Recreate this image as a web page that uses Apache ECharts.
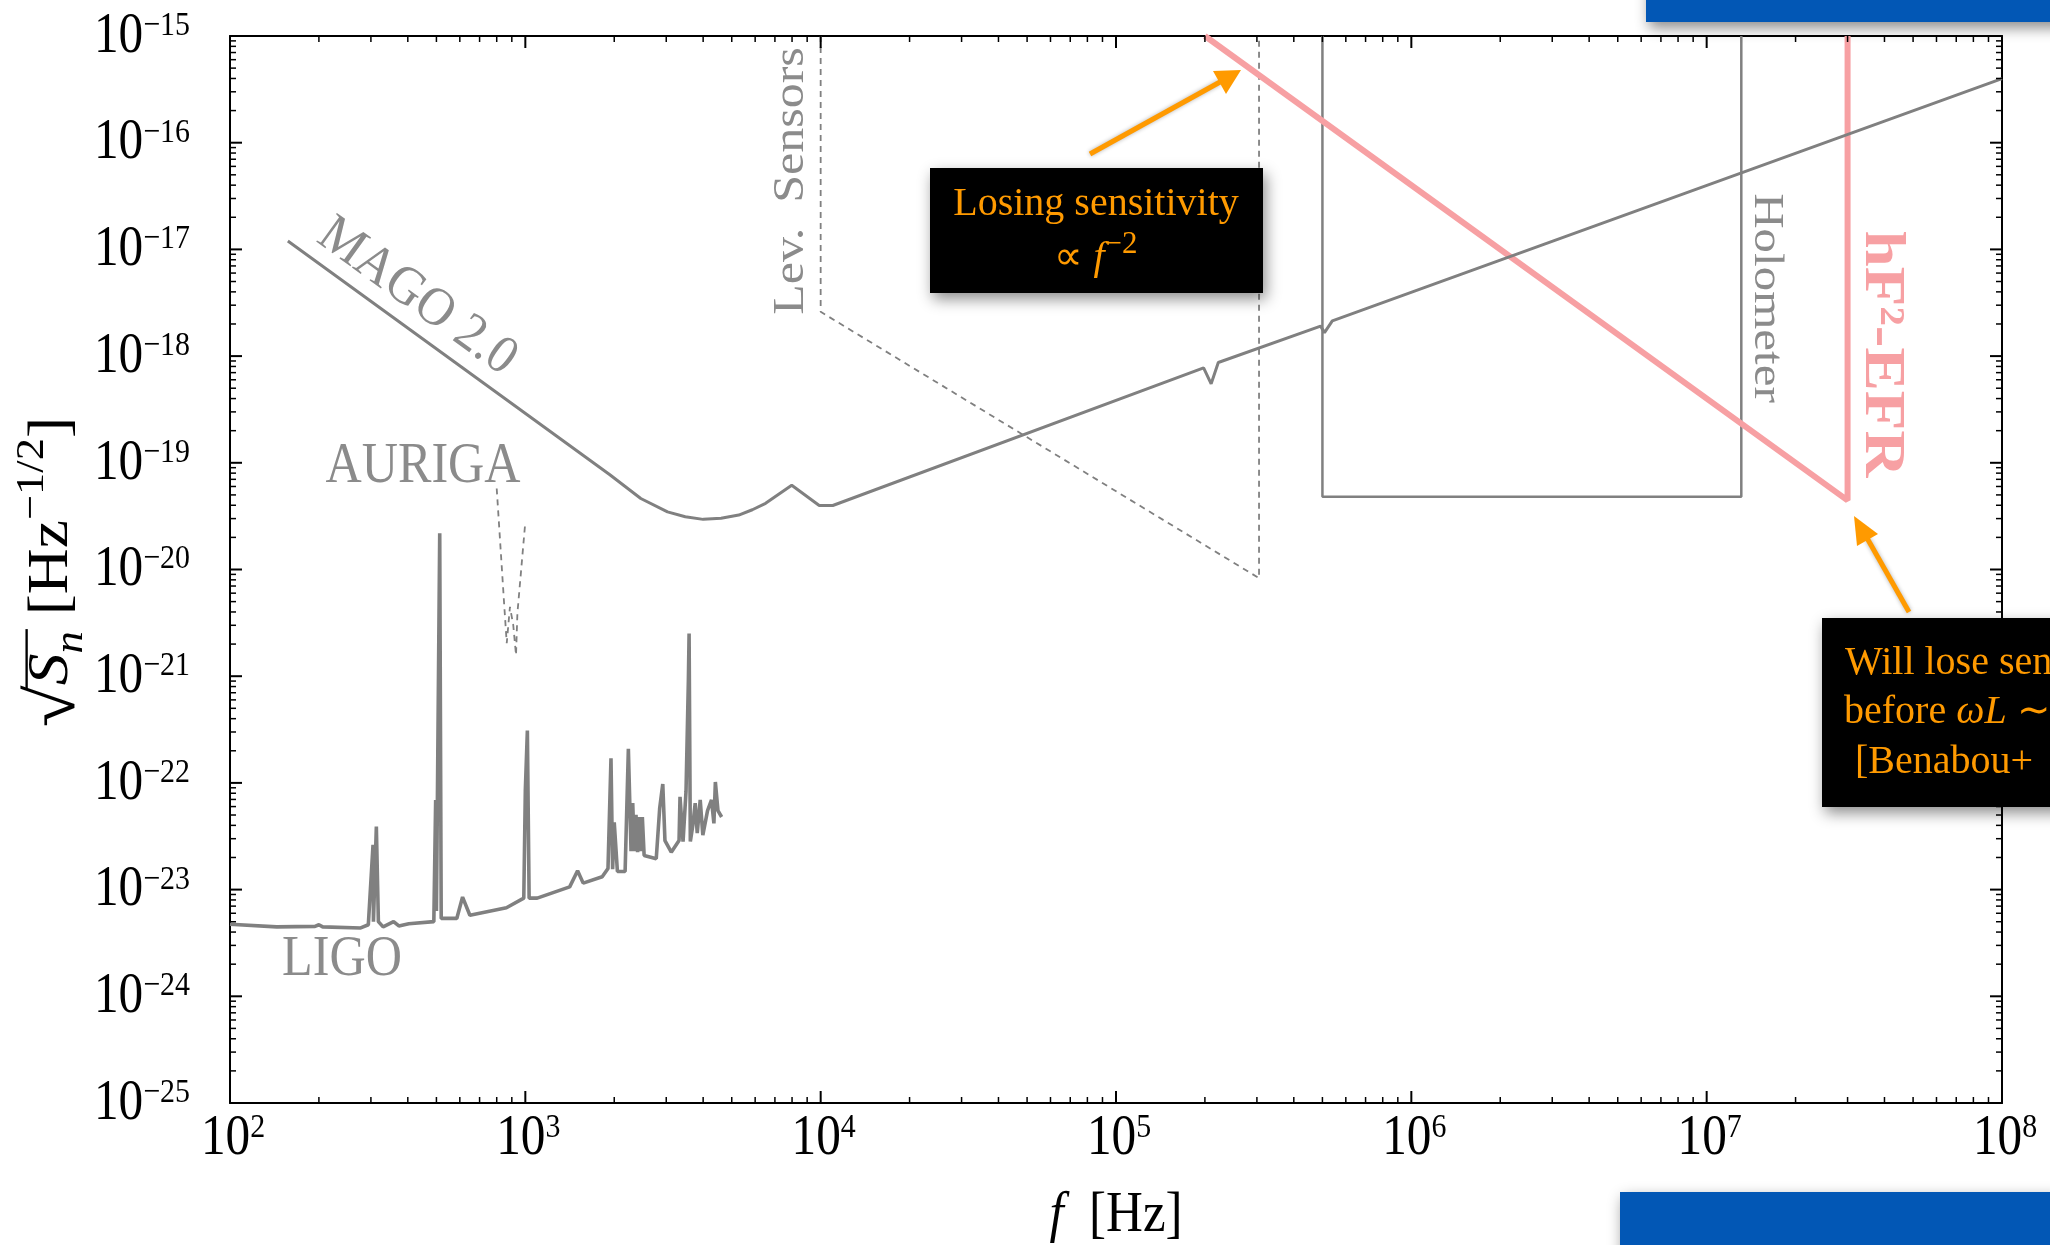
<!DOCTYPE html>
<html><head><meta charset="utf-8">
<script src="https://cdn.jsdelivr.net/npm/echarts@6/dist/echarts.min.js"></script>
<style>html,body{margin:0;padding:0;background:#fff}#c{width:2050px;height:1245px}</style>
</head><body><div id="c"></div>
<script>
// ---------------- data (frequency in Hz, sqrt(S_n) in Hz^-1/2) ----------------
const ligoF = [100,144,194,200,206,277,294,305,306,313,318,330,358,373,403,490,497,500,513,519,586,613,649,863,988,1000,1016,1030,1097,1413,1503,1570,1821,1905,1950,1975,2000,2050,2177,2233,2280,2310,2340,2370,2400,2430,2460,2490,2525,2775,2850,2920,2970,3120,3315,3340,3420,3500,3565,3585,3620,3690,3760,3820,3910,3990,4140,4270,4350,4400,4490,4620];
const ligoS = [4.73e-24,4.47e-24,4.52e-24,4.68e-24,4.47e-24,4.37e-24,4.68e-24,2.63e-23,5.01e-24,3.89e-23,5.01e-24,4.47e-24,5.01e-24,4.57e-24,4.79e-24,5.01e-24,6.92e-23,6.31e-24,2.19e-20,5.37e-24,5.37e-24,8.51e-24,5.75e-24,6.76e-24,8.32e-24,8.51e-23,3.09e-22,8.32e-24,8.32e-24,1.06e-23,1.50e-23,1.15e-23,1.32e-23,1.58e-23,1.70e-22,1.55e-23,4.27e-23,1.48e-23,1.48e-23,2.09e-22,2.29e-23,6.46e-23,2.29e-23,5.01e-23,2.24e-23,4.79e-23,2.29e-23,4.79e-23,2.09e-23,1.95e-23,5.75e-23,9.77e-23,2.88e-23,2.24e-23,2.88e-23,7.41e-23,2.82e-23,8.32e-23,9.12e-22,2.51e-21,2.82e-23,3.98e-23,6.46e-23,3.39e-23,6.92e-23,3.24e-23,5.50e-23,6.92e-23,4.17e-23,1.02e-22,5.50e-23,4.79e-23];

const magoF = [157,1928,2460,3030,3480,4000,4600,5280,5870,6510,7980,9890,10990,198000,210000,222000,493000,508000,540000,1e8];
const magoS = [1.20e-17,7.76e-20,4.63e-20,3.47e-20,3.12e-20,2.95e-20,3.02e-20,3.24e-20,3.63e-20,4.17e-20,6.17e-20,3.98e-20,3.98e-20,7.76e-19,5.50e-19,8.71e-19,1.91e-18,1.66e-18,2.14e-18,3.98e-16];

const aurigaF = [800,849,865,887,910,930,940,998];
const aurigaS = [5.75e-20,4.47e-21,2.04e-21,4.47e-21,3.02e-21,1.58e-21,3.89e-21,2.63e-20];

const levF = [1e4,1e4,3.05e5,3.05e5];
const levS = [1e-15,2.6e-18,8.3e-21,1e-15];

const holoF = [5e5,5e5,1.31e7,1.31e7];
const holoS = [1e-15,4.8e-20,4.8e-20,1e-15];

const efrF = [2.0e5,3.0e7,3.0e7];
const efrS = [1e-15,4.45e-20,1e-15];

// axis ranges and tick positions
const xMin = 1e2, xMax = 1e8, yMin = 1e-25, yMax = 1e-15;
const xMajorTicks = [1e2,1e3,1e4,1e5,1e6,1e7,1e8];
const yMajorTicks = [1e-25,1e-24,1e-23,1e-22,1e-21,1e-20,1e-19,1e-18,1e-17,1e-16,1e-15];
const xMinorTicks = [2e2,3e2,4e2,5e2,6e2,7e2,8e2,9e2,2e3,3e3,4e3,5e3,6e3,7e3,8e3,9e3,2e4,3e4,4e4,5e4,6e4,7e4,8e4,9e4,2e5,3e5,4e5,5e5,6e5,7e5,8e5,9e5,2e6,3e6,4e6,5e6,6e6,7e6,8e6,9e6,2e7,3e7,4e7,5e7,6e7,7e7,8e7,9e7];
const yMinorMant = [2,3,4,5,6,7,8,9];
const yDecades = [-25,-24,-23,-22,-21,-20,-19,-18,-17,-16];

// ---------------- styling ----------------
const FONT = '"Liberation Serif","Times New Roman",serif';
const GRAY = '#808080';
const TXT = '#8b8b8b';
const PINK = '#F7A0A3';
const ORANGE = '#FF9A00';
const BLUE = '#0257B5';
const SX = 0.88; // horizontal condensation of the reference's lettering

const pair = (xs, ys) => xs.map((x, i) => [x, ys[i]]);
const yMinorTicks = [];
yDecades.forEach(d => yMinorMant.forEach(m => yMinorTicks.push(m * Math.pow(10, d))));

function axis(pos, isX) {
  return {
    type: 'log', logBase: 10, position: pos,
    min: isX ? xMin : yMin, max: isX ? xMax : yMax, splitNumber: isX ? 6 : 10,
    axisLine: {show: true, onZero: false, lineStyle: {color: '#000', width: 2}},
    axisTick: {show: false}, minorTick: {show: false},
    splitLine: {show: false}, minorSplitLine: {show: false},
    axisLabel: {show: false}
  };
}

const tickLine = (x1, y1, x2, y2, w) => ({type: 'line', shape: {x1, y1, x2, y2}, style: {stroke: '#000', lineWidth: w}});
const tickRich = {
  b: {fontFamily: FONT, fontSize: 56, fill: '#000', verticalAlign: 'bottom', lineHeight: 56},
  s: {fontFamily: FONT, fontSize: 34, fill: '#000', verticalAlign: 'bottom', lineHeight: 34, padding: [0, 0, 22, 0]}
};
const labelEl = (text, x, y, align, vAlign) => ({type: 'text', x, y, scaleX: SX, style: {text, rich: tickRich,
  align, verticalAlign: vAlign, textAlign: align, textVerticalAlign: vAlign}});
const expText = v => { const e = Math.round(Math.log10(v)); return '{b|10}{s|' + (e < 0 ? '\u2212' + (-e) : String(e)) + '}'; };

const chart = echarts.init(document.getElementById('c'), null, {renderer: 'canvas'});

// measure y-label pieces for vinculum placement
const mctx = document.createElement('canvas').getContext('2d');
function tw(t, size, st) { mctx.font = (st || '') + ' ' + size + 'px ' + FONT; return mctx.measureText(t).width; }
const YF = 60, YS = 42, YQ = 72;
const wSq = tw('\u221A', YQ), wS = tw('S', YF, 'italic'), wn = tw('n', YS, 'italic');
const wRest = tw(' [Hz', YF) + tw('\u22121/2', YS) + tw(']', YF);
const W = wSq + wS + wn + wRest;
const x0 = -W / 2;

const txt = (text, x, y, size) => ({
  type: 'text', x, y, z: 50, scaleX: SX,
  style: {text, fontFamily: FONT, fontSize: size, fill: TXT,
    align: 'center', verticalAlign: 'middle', textAlign: 'center', textVerticalAlign: 'middle'}
});
// rotated labels; sy condenses the glyph height (screen-horizontal for vertical text)
const rtxt = (text, x, y, size, rot, sx, sy, style) => ({type: 'group', x, y, rotation: rot, z: 50, children: [
  {type: 'text', scaleX: sx, scaleY: sy, z: 50, style: Object.assign({text, fontFamily: FONT, fontSize: size, fill: TXT,
    align: 'center', verticalAlign: 'middle', textAlign: 'center', textVerticalAlign: 'middle'}, style || {})}
]});

const boxShadow = {shadowBlur: 14, shadowColor: 'rgba(0,0,0,0.45)', shadowOffsetX: 3, shadowOffsetY: 6};
const orangeRich = {
  r: {fontFamily: FONT, fontSize: 40, fill: ORANGE, color: ORANGE, verticalAlign: 'bottom', padding: [0, 0, 4, 0]},
  i: {fontFamily: FONT, fontSize: 40, fontStyle: 'italic', fill: ORANGE, color: ORANGE, verticalAlign: 'bottom', padding: [0, 0, 4, 0]},
  s: {fontFamily: FONT, fontSize: 31, fill: ORANGE, color: ORANGE, verticalAlign: 'bottom', padding: [0, 0, 22, 0]}
};
const oText = (text, x, y, align) => ({type: 'text', x, y, z: 61, style: {text, rich: orangeRich,
  align, verticalAlign: 'middle', textAlign: align, textVerticalAlign: 'middle'}});

const option = {
  animation: false,
  backgroundColor: '#fff',
  grid: {left: 230, right: 48, top: 36, bottom: 142, containLabel: false},
  xAxis: [axis('bottom', true), axis('top', true)],
  yAxis: [axis('left', false), axis('right', false)],
  series: [
    {type: 'line', name: 'Lev. Sensors', data: pair(levF, levS), symbol: 'none', z: 2,
     lineStyle: {color: GRAY, width: 1.8, type: [6, 5]}},
    {type: 'line', name: 'AURIGA', data: pair(aurigaF, aurigaS), symbol: 'none', z: 2,
     lineStyle: {color: GRAY, width: 1.8, type: [6, 5]}},
    {type: 'line', name: 'Holometer', data: pair(holoF, holoS), symbol: 'none', z: 3,
     lineStyle: {color: GRAY, width: 2.5}},
    {type: 'line', name: 'hF2-EFR', data: pair(efrF, efrS), symbol: 'none', z: 4,
     lineStyle: {color: PINK, width: 6}},
    {type: 'line', name: 'MAGO 2.0', data: pair(magoF, magoS), symbol: 'none', z: 5,
     lineStyle: {color: GRAY, width: 3}},
    {type: 'line', name: 'LIGO', data: pair(ligoF, ligoS), symbol: 'none', z: 5,
     lineStyle: {color: GRAY, width: 3.6}},
    {type: 'custom', name: 'xticks', coordinateSystem: 'cartesian2d', silent: true, clip: false, z: 10,
     data: xMajorTicks.map(f => [f, 1e-20, 1]).concat(xMinorTicks.map(f => [f, 1e-20, 0])),
     renderItem: (p, api) => {
       const f = api.value(0), major = api.value(2) === 1;
       const b = api.coord([f, yMin]), t = api.coord([f, yMax]);
       const L = major ? 12 : 6, w = major ? 2 : 1.5;
       const ch = [tickLine(b[0], b[1], b[0], b[1] - L, w), tickLine(t[0], t[1], t[0], t[1] + L, w)];
       if (major) ch.push(labelEl(expText(f), b[0] + 3, b[1] + 8, 'center', 'top'));
       return {type: 'group', children: ch};
     }},
    {type: 'custom', name: 'yticks', coordinateSystem: 'cartesian2d', silent: true, clip: false, z: 10,
     data: yMajorTicks.map(v => [1e5, v, 1]).concat(yMinorTicks.map(v => [1e5, v, 0])),
     renderItem: (p, api) => {
       const v = api.value(1), major = api.value(2) === 1;
       const l = api.coord([xMin, v]), r = api.coord([xMax, v]);
       const L = major ? 12 : 6, w = major ? 2 : 1.5;
       const ch = [tickLine(l[0], l[1], l[0] + L, l[1], w), tickLine(r[0], r[1], r[0] - L, r[1], w)];
       if (major) ch.push(labelEl(expText(v), l[0] - 40, l[1] + 1, 'right', 'middle'));
       return {type: 'group', children: ch};
     }}
  ],
  graphic: {elements: [
    // curve labels
    rtxt('MAGO 2.0', 417, 297, 54, -0.625, 0.94, 1),
    txt('AURIGA', 423, 467, 57),
    txt('LIGO', 342, 960, 57),
    rtxt('Lev.  Sensors', 791, 181, 50, Math.PI / 2, 1, SX),
    rtxt('Holometer', 1766, 298, 49, -Math.PI / 2, 1, SX),
    rtxt('hF\u00B2-EFR', 1881, 354, 65, -Math.PI / 2, 1, SX, {fill: PINK, fontWeight: 'bold'}),
    // x axis name
    {type: 'text', x: 1116, y: 1216, z: 50, scaleX: SX, style: {
      text: '{i|f}{r|  [Hz]}', align: 'center', verticalAlign: 'middle', textAlign: 'center', textVerticalAlign: 'middle',
      rich: {i: {fontFamily: FONT, fontSize: 58, fontStyle: 'italic', fill: '#000'}, r: {fontFamily: FONT, fontSize: 58, fill: '#000'}}}},
    // y axis name
    {type: 'group', x: 52, y: 572, rotation: Math.PI / 2, z: 50, children: [{type: 'group', scaleX: 1.06, scaleY: 0.94, children: [
      {type: 'text', z: 50, style: {
        text: '{q|\u221A}{i|S}{sub|n}{r| [Hz}{sup|\u22121/2}{r|]}', align: 'center', verticalAlign: 'middle',
        textAlign: 'center', textVerticalAlign: 'middle',
        rich: {
          q: {fontFamily: FONT, fontSize: YQ, fill: '#000', verticalAlign: 'bottom', padding: [0, 0, 2, 0]},
          i: {fontFamily: FONT, fontSize: YF, fontStyle: 'italic', fill: '#000', verticalAlign: 'bottom', padding: [0, 0, 12, 0]},
          r: {fontFamily: FONT, fontSize: YF, fill: '#000', verticalAlign: 'bottom', padding: [0, 0, 12, 0]},
          sub: {fontFamily: FONT, fontSize: YS, fontStyle: 'italic', fill: '#000', verticalAlign: 'bottom', padding: [0, 0, 0, 0]},
          sup: {fontFamily: FONT, fontSize: YS, fill: '#000', verticalAlign: 'bottom', padding: [0, 0, 42, 0]}
        }}},
      {type: 'line', z: 50, shape: {x1: x0 + wSq * 0.92, y1: -27, x2: x0 + wSq + wS + wn + 2, y2: -27},
       style: {stroke: '#000', lineWidth: 2.5}}
    ]}]},
    // annotation box 1
    {type: 'rect', z: 60, shape: {x: 930, y: 168, width: 333, height: 125}, style: Object.assign({fill: '#000'}, boxShadow)},
    oText('{r|Losing sensitivity}', 1096, 206, 'center'),
    oText('{r|\u221D }{i|f}{s|\u22122}', 1096, 256, 'center'),
    {type: 'line', z: 61, shape: {x1: 1090, y1: 154, x2: 1220, y2: 82}, style: {stroke: ORANGE, lineWidth: 5, shadowBlur: 4, shadowColor: 'rgba(0,0,0,0.3)'}},
    {type: 'polygon', z: 61, shape: {points: [[1241, 70], [1213, 71], [1226, 94]]}, style: {fill: ORANGE}},
    // annotation box 2
    {type: 'rect', z: 60, shape: {x: 1822, y: 618, width: 320, height: 189}, style: Object.assign({fill: '#000'}, boxShadow)},
    oText('{r|Will lose sensitivity}', 1845, 665, 'left'),
    oText('{r|before }{i|\u03C9L}{r| \u223C 1}', 1844, 714, 'left'),
    oText('{r|[Benabou+  2022]}', 1855, 764, 'left'),
    {type: 'line', z: 61, shape: {x1: 1909, y1: 612, x2: 1867, y2: 538}, style: {stroke: ORANGE, lineWidth: 5, shadowBlur: 4, shadowColor: 'rgba(0,0,0,0.3)'}},
    {type: 'polygon', z: 61, shape: {points: [[1854, 516], [1878, 534], [1857, 546]]}, style: {fill: ORANGE}},
    // slide overlays (blue bars)
    {type: 'rect', z: 70, shape: {x: 1646, y: -20, width: 420, height: 42}, style: Object.assign({fill: BLUE}, boxShadow)},
    {type: 'rect', z: 70, shape: {x: 1620, y: 1192, width: 440, height: 80}, style: Object.assign({fill: BLUE}, boxShadow)}
  ]}
};
chart.setOption(option);
</script>
</body></html>
